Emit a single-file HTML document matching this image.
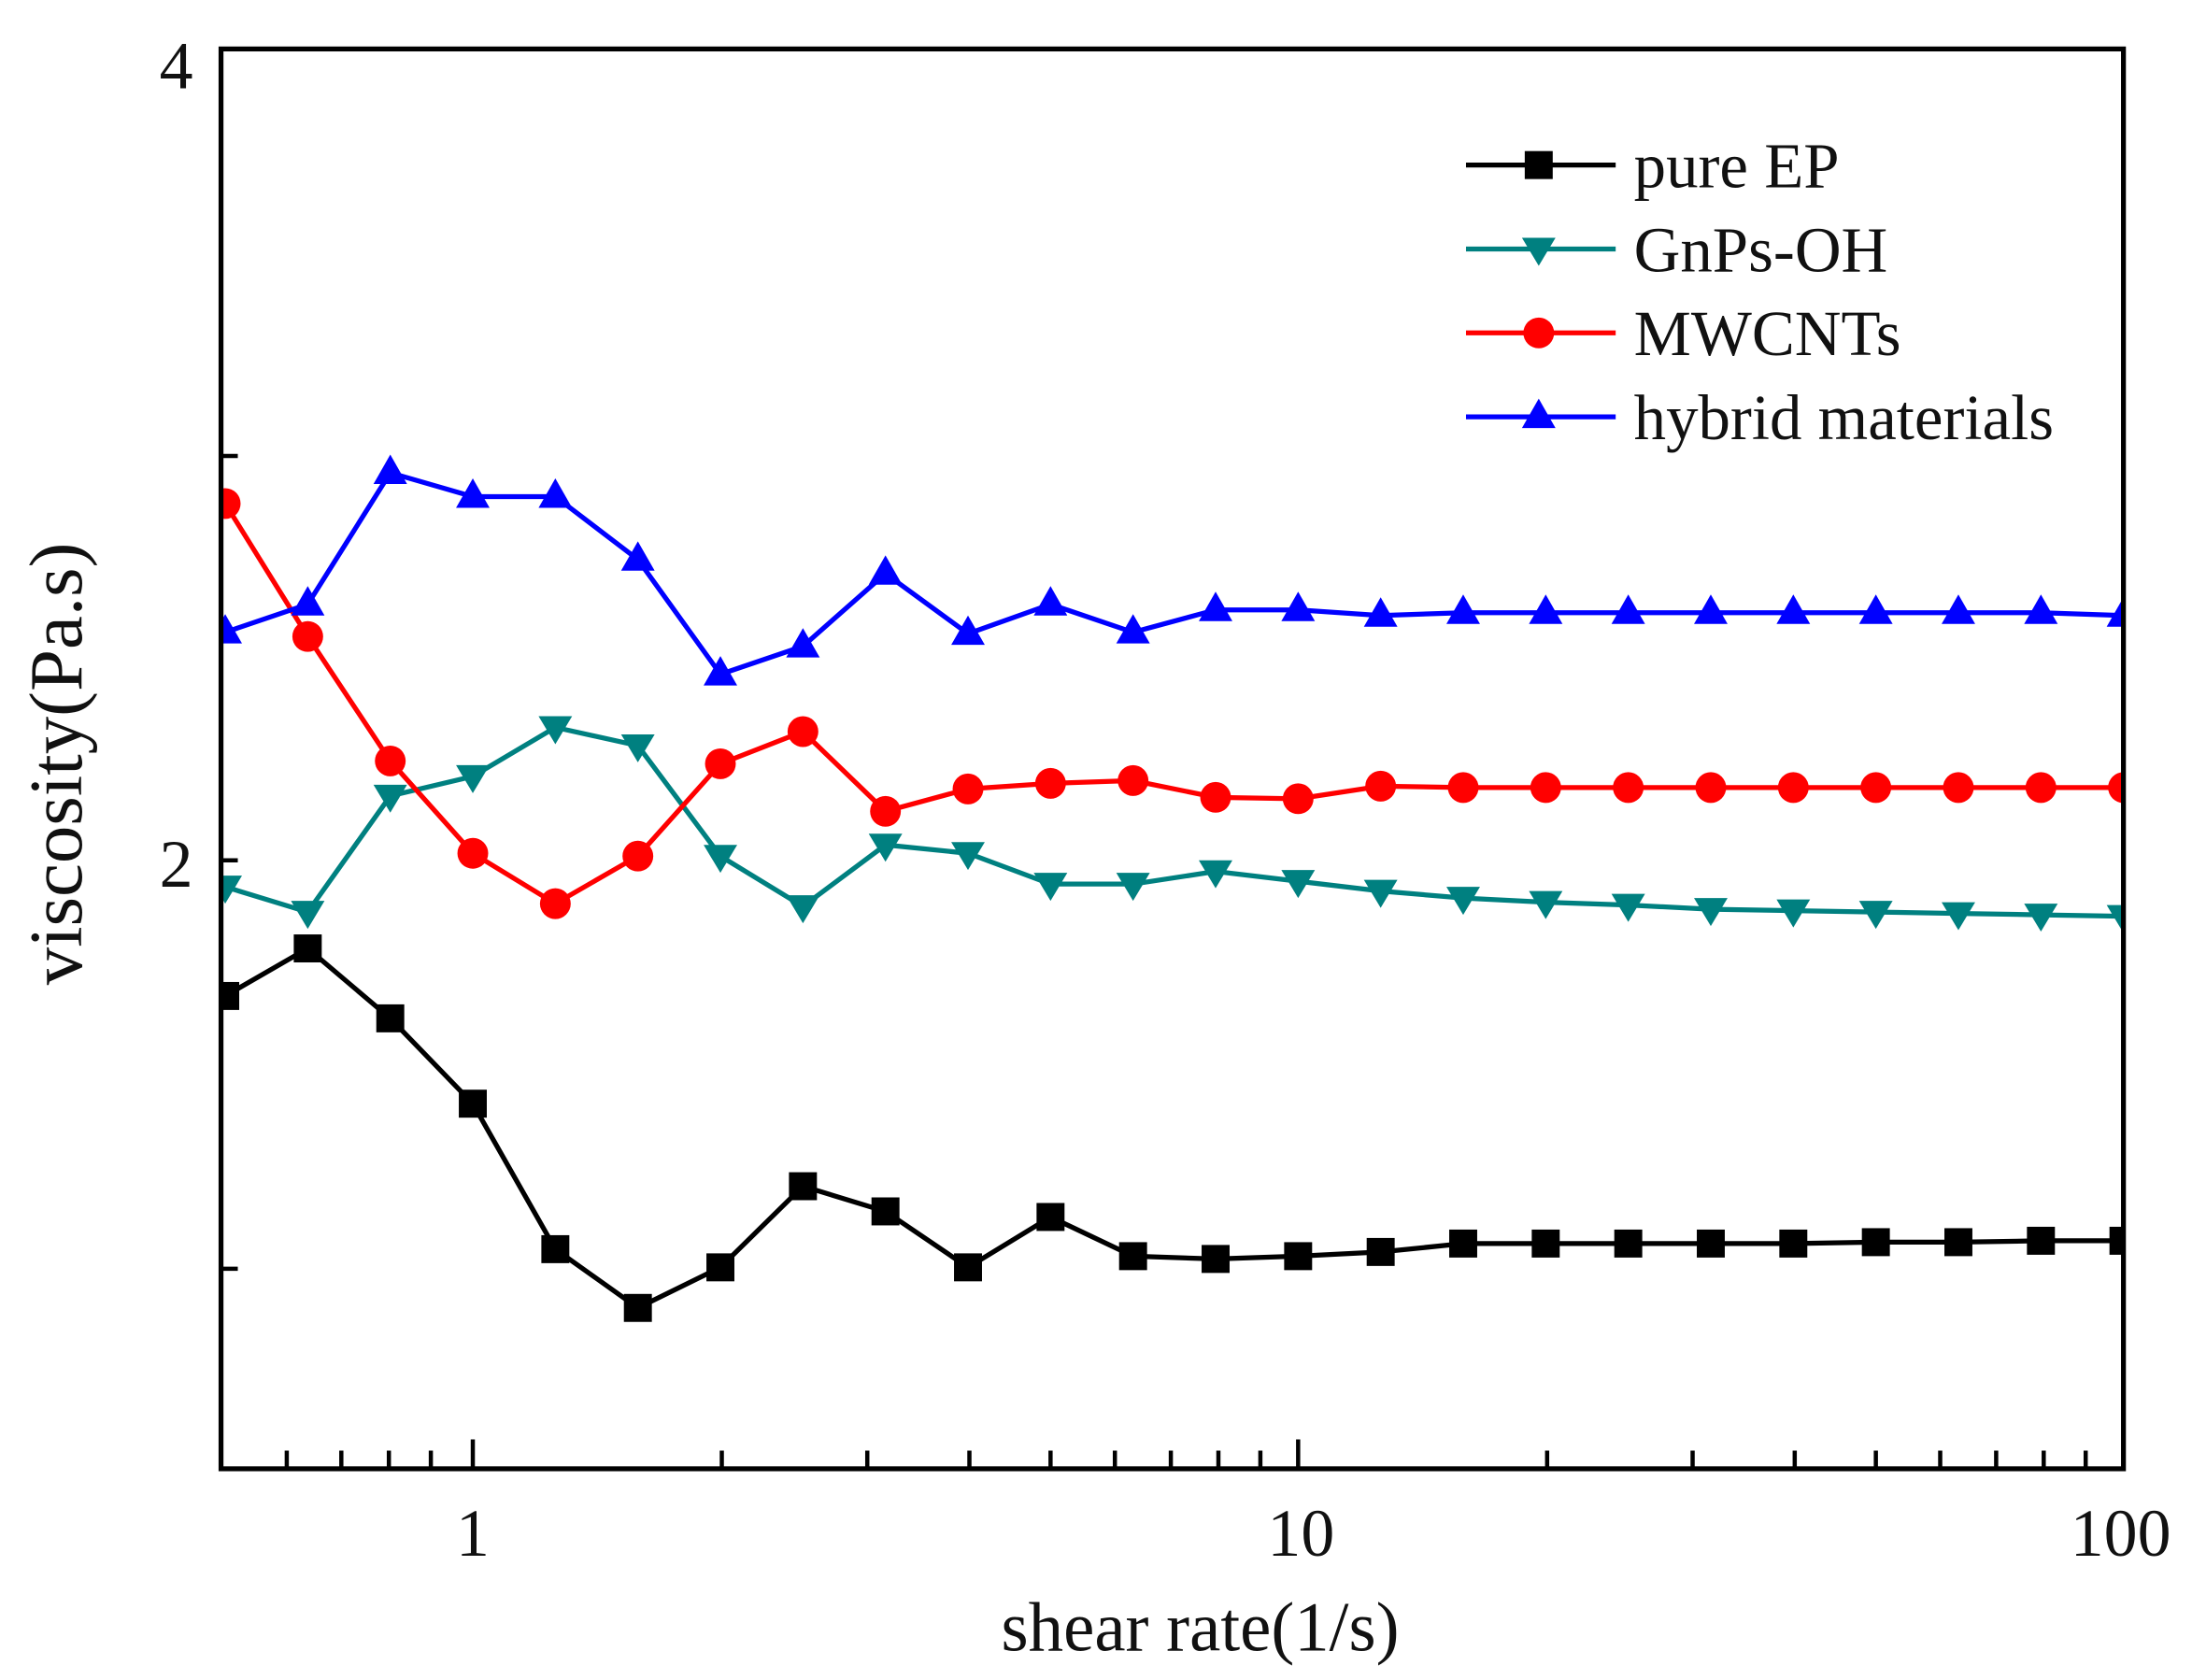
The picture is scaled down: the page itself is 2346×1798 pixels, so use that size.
<!DOCTYPE html>
<html><head><meta charset="utf-8"><style>
html,body{margin:0;padding:0;background:#fff;}
svg{display:block;}
text{font-family:"Liberation Serif",serif;fill:#111;}
</style></head><body>
<svg width="2346" height="1798" viewBox="0 0 1567 1201" preserveAspectRatio="none" xmlns="http://www.w3.org/2000/svg">
<defs>
<clipPath id="c"><rect x="158" y="35" width="1360" height="1015"/></clipPath>
</defs>
<g clip-path="url(#c)">
<polyline fill="none" stroke="#000" stroke-width="3.5" points="161,712 220,678 279,728 338,789 397,893 456,935 515,906 574,848 633,866 692,906 751,870 810,898 869,900 928,898 987,895 1046,889 1105,889 1164,889 1223,889 1282,889 1341,888 1400,888 1459,887 1518,887"/>
<g fill="#000">
<rect x="151" y="702" width="20" height="20"/><rect x="210" y="668" width="20" height="20"/><rect x="269" y="718" width="20" height="20"/><rect x="328" y="779" width="20" height="20"/><rect x="387" y="883" width="20" height="20"/><rect x="446" y="925" width="20" height="20"/><rect x="505" y="896" width="20" height="20"/><rect x="564" y="838" width="20" height="20"/><rect x="623" y="856" width="20" height="20"/><rect x="682" y="896" width="20" height="20"/><rect x="741" y="860" width="20" height="20"/><rect x="800" y="888" width="20" height="20"/><rect x="859" y="890" width="20" height="20"/><rect x="918" y="888" width="20" height="20"/><rect x="977" y="885" width="20" height="20"/><rect x="1036" y="879" width="20" height="20"/><rect x="1095" y="879" width="20" height="20"/><rect x="1154" y="879" width="20" height="20"/><rect x="1213" y="879" width="20" height="20"/><rect x="1272" y="879" width="20" height="20"/><rect x="1331" y="878" width="20" height="20"/><rect x="1390" y="878" width="20" height="20"/><rect x="1449" y="877" width="20" height="20"/><rect x="1508" y="877" width="20" height="20"/>
</g>
<polyline fill="none" stroke="#008080" stroke-width="3.5" points="161,634 220,652 279,569 338,555 397,520 456,533 515,612 574,648 633,604 692,610 751,632 810,632 869,623 928,630 987,637 1046,642 1105,645 1164,647 1223,650 1282,651 1341,652 1400,653 1459,654 1518,655"/>
<g fill="#008080">
<path d="M149,626h24l-12,20z"/><path d="M208,644h24l-12,20z"/><path d="M267,561h24l-12,20z"/><path d="M326,547h24l-12,20z"/><path d="M385,512h24l-12,20z"/><path d="M444,525h24l-12,20z"/><path d="M503,604h24l-12,20z"/><path d="M562,640h24l-12,20z"/><path d="M621,596h24l-12,20z"/><path d="M680,602h24l-12,20z"/><path d="M739,624h24l-12,20z"/><path d="M798,624h24l-12,20z"/><path d="M857,615h24l-12,20z"/><path d="M916,622h24l-12,20z"/><path d="M975,629h24l-12,20z"/><path d="M1034,634h24l-12,20z"/><path d="M1093,637h24l-12,20z"/><path d="M1152,639h24l-12,20z"/><path d="M1211,642h24l-12,20z"/><path d="M1270,643h24l-12,20z"/><path d="M1329,644h24l-12,20z"/><path d="M1388,645h24l-12,20z"/><path d="M1447,646h24l-12,20z"/><path d="M1506,647h24l-12,20z"/>
</g>
<polyline fill="none" stroke="#f00" stroke-width="3.5" points="161,360 220,455 279,544 338,610 397,646 456,612 515,546 574,523 633,580 692,564 751,560 810,558 869,570 928,571 987,562 1046,563 1105,563 1164,563 1223,563 1282,563 1341,563 1400,563 1459,563 1518,563"/>
<g fill="#f00">
<circle cx="161" cy="360" r="11"/><circle cx="220" cy="455" r="11"/><circle cx="279" cy="544" r="11"/><circle cx="338" cy="610" r="11"/><circle cx="397" cy="646" r="11"/><circle cx="456" cy="612" r="11"/><circle cx="515" cy="546" r="11"/><circle cx="574" cy="523" r="11"/><circle cx="633" cy="580" r="11"/><circle cx="692" cy="564" r="11"/><circle cx="751" cy="560" r="11"/><circle cx="810" cy="558" r="11"/><circle cx="869" cy="570" r="11"/><circle cx="928" cy="571" r="11"/><circle cx="987" cy="562" r="11"/><circle cx="1046" cy="563" r="11"/><circle cx="1105" cy="563" r="11"/><circle cx="1164" cy="563" r="11"/><circle cx="1223" cy="563" r="11"/><circle cx="1282" cy="563" r="11"/><circle cx="1341" cy="563" r="11"/><circle cx="1400" cy="563" r="11"/><circle cx="1459" cy="563" r="11"/><circle cx="1518" cy="563" r="11"/>
</g>
<polyline fill="none" stroke="#00f" stroke-width="3.5" points="161,452 220,432 279,338 338,355 397,355 456,400 515,482 574,462 633,410 692,453 751,432 810,452 869,436 928,436 987,440 1046,438 1105,438 1164,438 1223,438 1282,438 1341,438 1400,438 1459,438 1518,440"/>
<g fill="#00f">
<path d="M149,460h24l-12,-21z"/><path d="M208,440h24l-12,-21z"/><path d="M267,346h24l-12,-21z"/><path d="M326,363h24l-12,-21z"/><path d="M385,363h24l-12,-21z"/><path d="M444,408h24l-12,-21z"/><path d="M503,490h24l-12,-21z"/><path d="M562,470h24l-12,-21z"/><path d="M621,418h24l-12,-21z"/><path d="M680,461h24l-12,-21z"/><path d="M739,440h24l-12,-21z"/><path d="M798,460h24l-12,-21z"/><path d="M857,444h24l-12,-21z"/><path d="M916,444h24l-12,-21z"/><path d="M975,448h24l-12,-21z"/><path d="M1034,446h24l-12,-21z"/><path d="M1093,446h24l-12,-21z"/><path d="M1152,446h24l-12,-21z"/><path d="M1211,446h24l-12,-21z"/><path d="M1270,446h24l-12,-21z"/><path d="M1329,446h24l-12,-21z"/><path d="M1388,446h24l-12,-21z"/><path d="M1447,446h24l-12,-21z"/><path d="M1506,448h24l-12,-21z"/>
</g>
</g>
<rect x="158" y="35" width="1360" height="1015" fill="none" stroke="#000" stroke-width="3.5"/>
<g stroke="#000" stroke-width="3">
<path d="M158,326h12M158,615h12M158,907h12"/>
<path d="M338,1050v-21M928,1050v-21"/>
<path d="M205,1050v-13M244,1050v-13M278,1050v-13M308,1050v-13"/>
<path d="M516,1050v-13M620,1050v-13M693,1050v-13M751,1050v-13M797,1050v-13M837,1050v-13M871,1050v-13M901,1050v-13"/>
<path d="M1106,1050v-13M1210,1050v-13M1283,1050v-13M1341,1050v-13M1387,1050v-13M1427,1050v-13M1461,1050v-13M1491,1050v-13"/>
</g>
<g font-size="48" text-anchor="middle">
<text x="126" y="63">4</text>
<text x="126" y="634">2</text>
<text x="338" y="1112">1</text>
<text x="930" y="1112">10</text>
<text x="1516" y="1112">100</text>
</g>
<text x="858" y="1180" font-size="50" text-anchor="middle">shear rate(1/s)</text>
<text transform="translate(58,546) rotate(-90)" font-size="54" text-anchor="middle">viscosity(Pa.s)</text>
<g stroke-width="3.5">
<line x1="1048" y1="118" x2="1155" y2="118" stroke="#000"/>
<line x1="1048" y1="178" x2="1155" y2="178" stroke="#008080"/>
<line x1="1048" y1="238" x2="1155" y2="238" stroke="#f00"/>
<line x1="1048" y1="298" x2="1155" y2="298" stroke="#00f"/>
</g>
<rect x="1090" y="108" width="20" height="20" fill="#000"/>
<path d="M1088,170h24l-12,20z" fill="#008080"/>
<circle cx="1100" cy="238" r="11" fill="#f00"/>
<path d="M1088,306h24l-12,-21z" fill="#00f"/>
<g font-size="46">
<text x="1168" y="134">pure EP</text>
<text x="1168" y="194">GnPs-OH</text>
<text x="1168" y="254">MWCNTs</text>
<text x="1168" y="314">hybrid materials</text>
</g>
</svg>
</body></html>
